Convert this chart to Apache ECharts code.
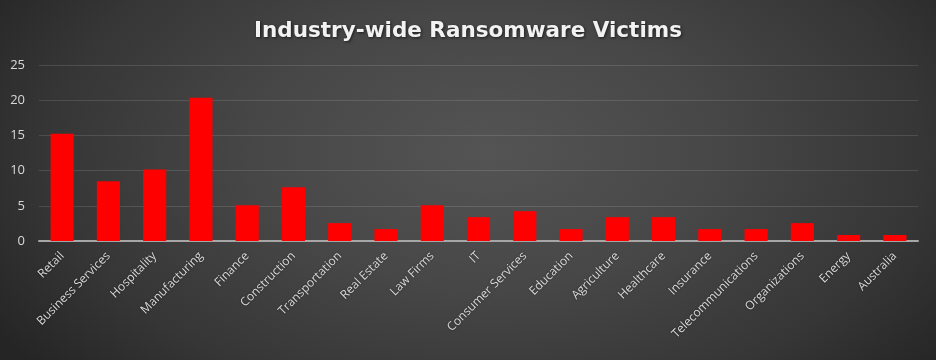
<!DOCTYPE html>
<html>
<head>
<meta charset="utf-8">
<script src="https://cdn.jsdelivr.net/npm/echarts@6/dist/echarts.min.js"></script>
<style>
html,body{margin:0;padding:0;background:#262626;}
#chart{width:936px;height:360px;
  background: radial-gradient(ellipse 62% 95% at 52% 42%, #545454 0%, #474747 40%, #363636 75%, #252525 100%);}
</style>
</head>
<body>
<div id="chart"></div>
<script>
const categories = ["Retail","Business Services","Hospitality","Manufacturing","Finance","Construction","Transportation","Real Estate","Law Firms","IT","Consumer Services","Education","Agriculture","Healthcare","Insurance","Telecommunications","Organizations","Energy","Australia"];
const victims = [15.25,8.47,10.17,20.34,5.08,7.63,2.54,1.69,5.08,3.39,4.24,1.69,3.39,3.39,1.69,1.69,2.54,0.85,0.85];
const yTicks = [0,5,10,15,20,25];
const titleText = "Industry-wide Ransomware Victims";

const chart = echarts.init(document.getElementById('chart'), null, {renderer:'canvas'});
chart.setOption({
  backgroundColor: 'transparent',
  animation:false,
  title:{
    text:titleText, left:'center', top:15,
    textStyle:{color:'#f2f2f2', fontSize:21.5, fontWeight:'bold', fontFamily:'DejaVu Sans',
      textShadowColor:'rgba(0,0,0,0.6)', textShadowBlur:3, textShadowOffsetX:1, textShadowOffsetY:1}
  },
  grid:{left:39, right:18, top:65, bottom:119, containLabel:false},
  xAxis:{
    type:'category', data:categories,
    axisLine:{lineStyle:{color:'#a6a6a6', width:2}},
    axisTick:{show:false},
    axisLabel:{rotate:45, interval:0, color:'#d9d9d9', fontSize:12, fontFamily:'Open Sans', margin:13,
      textShadowColor:'rgba(0,0,0,0.5)', textShadowBlur:2}
  },
  yAxis:{
    type:'value', min:yTicks[0], max:yTicks[yTicks.length-1], interval:5,
    axisLine:{show:false}, axisTick:{show:false},
    axisLabel:{color:'#d9d9d9', fontSize:13, fontFamily:'Open Sans', margin:14},
    splitLine:{lineStyle:{color:'rgba(255,255,255,0.12)', width:1}}
  },
  series:[{
    type:'bar', data:victims, barWidth:'50%',
    itemStyle:{color:'#ff0000'}
  }]
});
</script>
</body>
</html>
